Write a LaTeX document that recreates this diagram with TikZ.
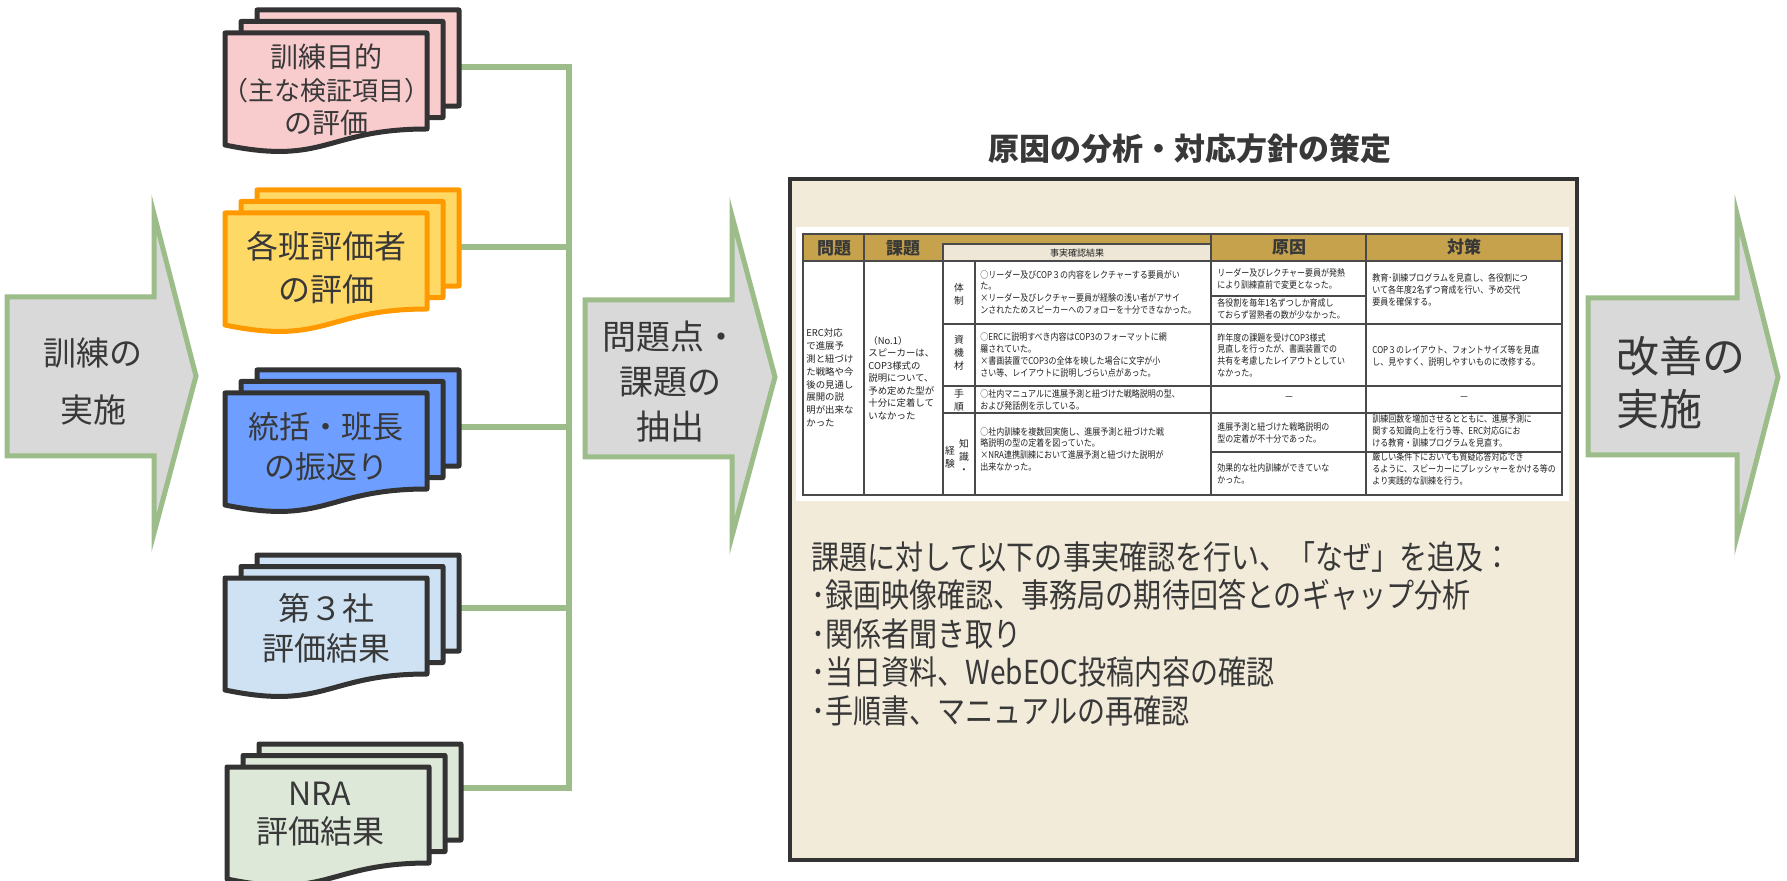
\documentclass[tikz,border=0pt]{standalone}
\usepackage{fontspec}
\setmainfont{Noto Sans CJK JP}
\newfontfamily\jpc{Noto Sans CJK JP}[FakeStretch=0.85]
\definecolor{agreen}{HTML}{9CBC8A}
\definecolor{agray}{HTML}{D9D9D9}
\definecolor{txt}{HTML}{383838}
\definecolor{dline}{HTML}{333333}
\definecolor{pinkf}{HTML}{F8CBCD}
\definecolor{orangef}{HTML}{FFD966}
\definecolor{oranged}{HTML}{FF9900}
\definecolor{bluef}{HTML}{6E9EFF}
\definecolor{lbluef}{HTML}{CFE2F3}
\definecolor{lgreenf}{HTML}{DDE8D9}
\definecolor{beige}{HTML}{F2EBDA}
\definecolor{gold}{HTML}{C5A24B}
\definecolor{subbeige}{HTML}{EEE7D7}
\definecolor{tline}{HTML}{4A4A4A}
\definecolor{ttxt}{HTML}{222222}

\newcommand{\docsheet}[4]{\filldraw[docline,fill=#3,draw=#4] ({#1},{#2}) -- ({#1+202},{#2}) -- ({#1+202},{#2+96}) .. controls ({#1+101},{#2+96}) and ({#1+101},{#2+133}) .. ({#1},{#2+112}) -- cycle;}
\newcommand{\docstack}[4]{\docsheet{#1+32}{#2-23}{#3}{#4}\docsheet{#1+16}{#2-11.5}{#3}{#4}\docsheet{#1}{#2}{#3}{#4}}

\begin{document}
\begin{tikzpicture}[x=0.5pt,y=-0.5pt,
  arrowstyle/.style={fill=agray,draw=agreen,line width=2.5pt,line join=miter},
  arrowtext/.style={text=txt,align=center,inner sep=0},
  docline/.style={line width=2.5pt,line join=round},
  doctext/.style={text=txt,align=center,inner sep=0},
  conn/.style={draw=agreen,line width=2.6pt},
  tline/.style={draw=tline,line width=0.7pt},
  thead/.style={text=txt,inner sep=0,font=\fontsize{8.5}{10}\selectfont\bfseries},
  tsub/.style={text=ttxt,inner sep=0,font=\fontsize{4.5}{5.5}\selectfont},
  tcell/.style={text=ttxt,anchor=west,align=left,inner sep=0,font=\jpc\fontsize{4.7}{5.85}\selectfont},
  tcellw/.style={text=ttxt,anchor=west,align=left,inner sep=0,font=\fontsize{4.7}{6.4}\selectfont},
  tvert/.style={text=ttxt,align=center,inner sep=0,font=\fontsize{4.9}{6.5}\selectfont},
  tdash/.style={text=ttxt,inner sep=0,font=\fontsize{4.7}{5.8}\selectfont}]
\useasboundingbox (0,0) rectangle (1787,881);

% ---------- block arrows ----------
\filldraw[arrowstyle] (7,297) -- (154,297) -- (154,214) -- (196,376) -- (154,533) -- (154,456) -- (7,456) -- cycle;
\node[arrowtext,font=\fontsize{16.5}{28.5}\selectfont] (a1) at (93,381) {訓練の\\実施};

\filldraw[arrowstyle] (585,300) -- (732,300) -- (732,216) -- (775,377) -- (732,536) -- (732,457) -- (585,457) -- cycle;
\node[arrowtext,font=\fontsize{17}{22.5}\selectfont] (a2) at (670,382) {問題点・\\課題の\\抽出};

\filldraw[arrowstyle] (1588,298) -- (1737,298) -- (1737,214) -- (1778,377) -- (1737,536) -- (1737,455) -- (1588,455) -- cycle;
\node[arrowtext,align=left,anchor=west,font=\fontsize{21.5}{26.5}\selectfont] (a3) at (1616,383) {改善の\\実施};

% ---------- connectors (behind documents) ----------
\coordinate (d1r) at (459,67);
\coordinate (d2r) at (459,247);
\coordinate (d3r) at (459,427);
\coordinate (d4r) at (459,608);
\coordinate (d5r) at (461,788);
\coordinate (busb) at (569,788);
\draw[conn] (d1r) -| (busb) -- (d5r);
\draw[conn] (d2r) -- (d2r -| busb);
\draw[conn] (d3r) -- (d3r -| busb);
\draw[conn] (d4r) -- (d4r -| busb);

% ---------- documents ----------
\docstack{225}{33}{pinkf}{dline}
\node[doctext,font=\fontsize{14}{16.5}\selectfont] (d1) at (326,90) {訓練目的\\{\fontsize{13}{16.5}\selectfont （主な検証項目）}\\の評価};

\docstack{225}{213}{orangef}{oranged}
\node[doctext,font=\fontsize{16}{21.5}\selectfont] (d2) at (326,268) {各班評価者\\の評価};

\docstack{225}{393}{bluef}{dline}
\node[doctext,font=\fontsize{15.5}{20}\selectfont] (d3) at (326,447) {統括・班長\\の振返り};

\docstack{225}{578}{lbluef}{dline}
\node[doctext,font=\fontsize{16}{20}\selectfont] (d4) at (326,628) {第３社\\評価結果};

\docstack{227}{767}{lgreenf}{dline}
\node[doctext,font=\fontsize{16}{19}\selectfont] (d5) at (320,814) {NRA\\評価結果};

% ---------- title and frame ----------
\node[text=txt,inner sep=0,font=\fontsize{15.5}{18}\selectfont\bfseries] (title) at (1190,149) {原因の分析・対応方針の策定};
\filldraw[fill=beige,draw=dline,line width=2pt] (790,179) rectangle (1577,860);

% ---------- table ----------
\fill[white] (796,227) rectangle (1569,501);
\fill[gold] (803,234) rectangle (1562,261);
\filldraw[fill=subbeige,tline] (943,244) rectangle (1211,261);
\draw[tline] (803,234) rectangle (1562,495);
\draw[tline] (803,261) -- (1562,261);
\draw[tline] (864,234) -- (864,495);
\draw[tline] (943,244) -- (943,495);
\draw[tline] (975,261) -- (975,495);
\draw[tline] (1211,234) -- (1211,495);
\draw[tline] (1366,234) -- (1366,495);
\draw[tline] (943,324) -- (1562,324) (943,386) -- (1562,386) (943,413) -- (1562,413);
\draw[tline] (1211,296) -- (1366,296) (1211,452) -- (1562,452);

\node[thead] (h1) at (834,248) {問題};
\node[thead] (h2) at (903,248) {課題};
\node[tsub] (h3) at (1077,253) {事実確認結果};
\node[thead] (h4) at (1289,247) {原因};
\node[thead] (h5) at (1464,247) {対策};

\node[tcellw] (p1) at (806,378) {ERC対応\\で進展予\\測と紐づけ\\た戦略や今\\後の見通し\\展開の説\\明が出来な\\かった};
\node[tcellw,font=\fontsize{4.7}{6.25}\selectfont] (k1) at (868,378) {（No.1）\\スピーカーは、\\COP3様式の\\説明について、\\予め定めた型が\\十分に定着して\\いなかった};

\node[tvert] (v1) at (959,294) {体\\制};
\node[tvert] (v2) at (959,353) {資\\機\\材};
\node[tvert] (v3) at (959,400) {手\\順};
\node[tvert] (v4a) at (964,456) {知\\識\\・};
\node[tvert] (v4b) at (950,457) {経\\験};

\node[tcell] (f1) at (980,292) {○リーダー及びCOP３の内容をレクチャーする要員がい\\た。\\×リーダー及びレクチャー要員が経験の浅い者がアサイ\\ンされたためスピーカーへのフォローを十分できなかった。};
\node[tcell] (f2) at (980,355) {○ERCに説明すべき内容はCOP3のフォーマットに網\\羅されていた。\\×書画装置でCOP3の全体を映した場合に文字が小\\さい等、レイアウトに説明しづらい点があった。};
\node[tcell] (f3) at (980,400) {○社内マニュアルに進展予測と紐づけた戦略説明の型、\\および発話例を示している。};
\node[tcell] (f4) at (980,449) {○社内訓練を複数回実施し、進展予測と紐づけた戦\\略説明の型の定着を図っていた。\\×NRA連携訓練において進展予測と紐づけた説明が\\出来なかった。};

\node[tcell] (c1) at (1217,279) {リーダー及びレクチャー要員が発熱\\により訓練直前で変更となった。};
\node[tcell] (c2) at (1217,309) {各役割を毎年1名ずつしか育成し\\ておらず習熟者の数が少なかった。};
\node[tcell] (c3) at (1217,355) {昨年度の課題を受けCOP3様式\\見直しを行ったが、書画装置での\\共有を考慮したレイアウトとしてい\\なかった。};
\node[tdash] (c4) at (1289,399) {－};
\node[tcell] (c5) at (1217,433) {進展予測と紐づけた戦略説明の\\型の定着が不十分であった。};
\node[tcell] (c6) at (1217,474) {効果的な社内訓練ができていな\\かった。};

\node[tcell] (m1) at (1372,290) {教育･訓練プログラムを見直し、各役割につ\\いて各年度2名ずつ育成を行い、予め交代\\要員を確保する。};
\node[tcell] (m2) at (1372,356) {COP３のレイアウト、フォントサイズ等を見直\\し、見やすく、説明しやすいものに改修する。};
\node[tdash] (m3) at (1464,399) {－};
\node[tcell] (m4) at (1372,431) {訓練回数を増加させるとともに、進展予測に\\関する知識向上を行う等、ERC対応Gにお\\ける教育・訓練プログラムを見直す。};
\node[tcell] (m5) at (1372,469) {厳しい条件下においても質疑応答対応でき\\るように、スピーカーにプレッシャーをかける等の\\より実践的な訓練を行う。};

% ---------- fact-finding text ----------
\node[anchor=north west,align=left,inner sep=0,text=txt,font=\jpc\fontsize{16.5}{19.25}\selectfont] (facts) at (811,541) {課題に対して以下の事実確認を行い、「なぜ」を追及：\\･録画映像確認、事務局の期待回答とのギャップ分析\\･関係者聞き取り\\･当日資料、WebEOC投稿内容の確認\\･手順書、マニュアルの再確認};
\end{tikzpicture}
\end{document}
